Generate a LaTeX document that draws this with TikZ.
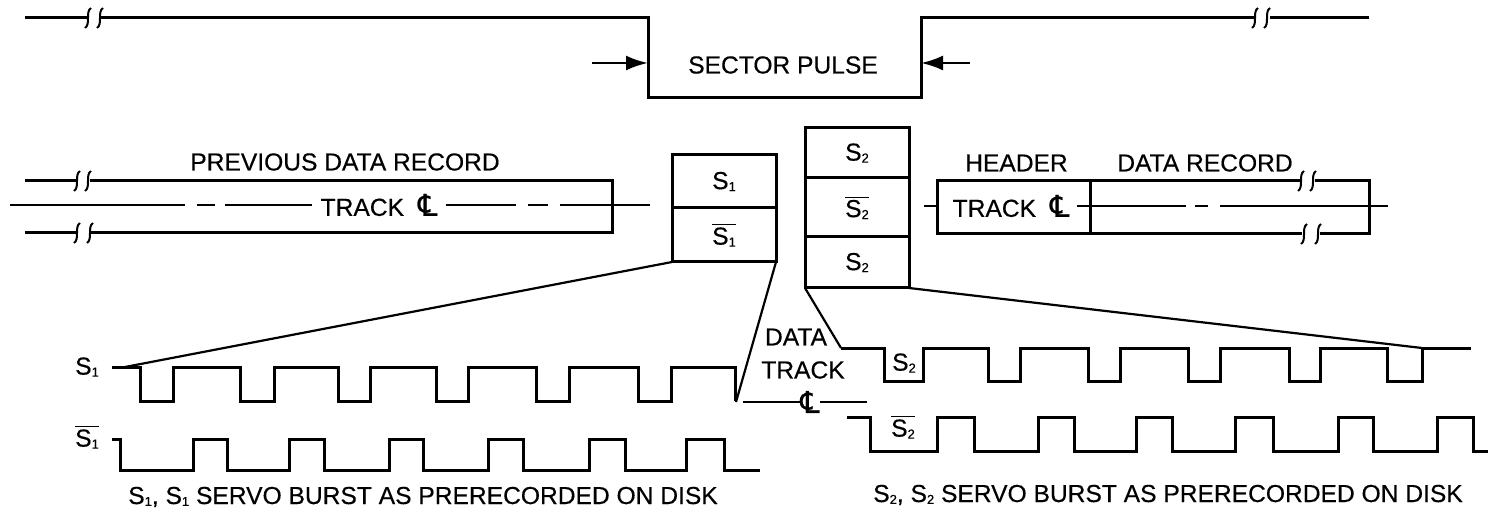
\documentclass[tikz,border=0pt]{standalone}
\usepackage{fontspec}
\setmainfont{Liberation Sans}[FakeBold=0.4]
\newfontfamily\clfont{DejaVu Sans}[FakeBold=0.6]
\usetikzlibrary{arrows.meta}
\usetikzlibrary{positioning}
\newcommand{\ssub}[2]{#1\raisebox{-0.15ex}{\fontsize{6.5}{6.5}\selectfont #2}}
\newcommand{\nbar}[1]{$\overline{\mbox{#1}}$}
\newcommand{\clmark}{{\clfont\fontsize{15}{15}\selectfont ℄}}
\newcommand{\trk}{TRACK\hspace{7pt}\clmark}

\begin{document}
\begin{tikzpicture}
[x=0.5pt,y=-0.5pt,%
  sig/.style={line width=1.5pt},%
  thin line/.style={line width=1.1pt},%
  cen/.style={line width=0.9pt},%
  lbl/.style={inner sep=0pt,font=\fontsize{12.3}{13}\selectfont},%
  trklbl/.style={lbl,inner xsep=4pt},%
  cell/.style={draw,line width=1.5pt,minimum width=52pt,inner sep=0pt,outer sep=0pt,font=\fontsize{12.3}{13}\selectfont},%
  brk/.style={line width=1pt},%
  pt/.style={line width=1.3pt,-{Latex[length=11pt,width=7.5pt]}}]
\useasboundingbox (0,0) rectangle (1494,513);

% sector pulse
\draw[sig] (25,18) -- (88,18);
\draw[sig] (100,18) -- (648,18) -- (648,98) -- (921,98) -- (921,18) -- (1255,18);
\draw[sig] (1270,18) -- (1369,18);
\node[lbl] (pulse) at (783,65) {SECTOR PULSE};
\coordinate (pl) at (592,63);
\coordinate (pr) at (970,63);
\draw[pt] (pl) -- (648,63);
\draw[pt] (pr) -- (921,63);

% previous record
\node[lbl] (prev) at (345,162) {PREVIOUS DATA RECORD};
\draw[sig] (25,181) -- (77,181);
\draw[sig] (90,181) -- (612,181) -- (612,233) -- (90,233);
\draw[sig] (25,233) -- (77,233);
\node[trklbl] (trka) at (379,205) {\trk};
\draw[cen] (10,205) -- (185,205);
\draw[cen] (197,205) -- (215,205);
\draw[cen] (225,205) -- (trka.west);
\draw[cen] (trka.east) -- (516,205);
\draw[cen] (528,205) -- (548,205);
\draw[cen] (560,205) -- (650,205);

% burst cells
\node[cell,minimum height=26.5pt] (sa) at (724,181.5) {\ssub{S}{1}};
\node[cell,minimum height=27pt,below=0pt of sa] (sb) {\nbar{\ssub{S}{1}}};
\node[cell,minimum height=25pt] (ta) at (857,153) {\ssub{S}{2}};
\node[cell,minimum height=29.5pt,below=0pt of ta] (tb) {\nbar{\ssub{S}{2}}};
\node[cell,minimum height=25.5pt,below=0pt of tb] (tc) {\ssub{S}{2}};

% next record
\node[draw,line width=1.5pt,minimum width=76.5pt,minimum height=26.5pt,inner sep=0pt,outer sep=0pt] (hdr) at (1013.5,207.5) {};
\node[lbl] (hdrl) at (1016.5,163) {HEADER};
\node[lbl] (recl) at (1205,163) {DATA RECORD};
\node[lbl] (trkb) at (1011,206) {\trk};
\draw[sig] (hdr.north east) -- (1300,181);
\draw[sig] (1315,181) -- (1369,181) -- (1369,234) -- (1320,234);
\draw[sig] (1302,234) -- (hdr.south east);
\draw[cen] (924,206) -- (hdr.west |- 924,206);
\draw[cen] (1077,206) -- (1186,206);
\draw[cen] (1195,206) -- (1208,206);
\draw[cen] (1220,206) -- (1388,206);

% break marks
\foreach \x/\y in {88/18,100/18,1255/18,1267/18,77/181,88/181,77/233,90/233,1301/181,1313/181,1304/234,1318/234}
  \draw[brk] (\x+3,\y-10) .. controls (\x-3,\y-6) and (\x+3,\y+6) .. (\x-3,\y+10);

% expansion lines
\coordinate (sl) at (125,367);
\coordinate (sr) at (736,402);
\coordinate (tl) at (841,348);
\coordinate (tr) at (1422,348);
\draw[thin line] (sb.south west) -- (sl);
\draw[thin line] (sb.south east) -- (sr);
\draw[thin line] (tc.south west) -- (tl);
\draw[thin line] (tc.south east) -- (tr);

% waves
\draw[sig] (112,367) foreach \d/\u in {140/173,240/274,338/370,436/468,536/569,638/671}
  { -- (\d,367) -- (\d,401) -- (\u,401) -- (\u,367) } -- (735,367) -- (735,401);
\draw[sig] (112,439) -- (120,439) -- (120,470) foreach \u/\d in {193/227,289/324,389/423,488/523,589/625,686/724}
  { -- (\u,470) -- (\u,439) -- (\d,439) -- (\d,470) } -- (760,470);
\draw[sig] (841,348) foreach \d/\u in {884/923,988/1020,1088/1120,1188/1220,1289/1320,1387/1422}
  { -- (\d,348) -- (\d,381) -- (\u,381) -- (\u,348) } -- (1471,348);
\draw[sig] (847,417) -- (870,417) -- (870,451) foreach \u/\d in {937/974,1038/1074,1136/1172,1235/1273,1338/1373,1437/1473}
  { -- (\u,451) -- (\u,417) -- (\d,417) -- (\d,451) } -- (1488,451);

% labels
\node[lbl] (ls) at (87,367) {\ssub{S}{1}};
\node[lbl] (lsb) at (87,437) {\nbar{\ssub{S}{1}}};
\node[lbl] (lt) at (904,363) {\ssub{S}{2}};
\node[lbl] (ltb) at (903,427) {\nbar{\ssub{S}{2}}};
\node[lbl] (dat) at (796,337) {DATA};
\node[lbl] (trkc) at (803,370) {TRACK};
\node[inner sep=0pt] (cl) at (810,402) {\clmark};
\draw[cen] (743,402) -- (cl.west);
\draw[cen] (cl.east) -- (867,402);
\node[lbl] (capa) at (423,497) {\ssub{S}{1}, \ssub{S}{1} SERVO BURST AS PRERECORDED ON DISK};
\node[lbl] (capb) at (1168,495) {\ssub{S}{2}, \ssub{S}{2} SERVO BURST AS PRERECORDED ON DISK};
\end{tikzpicture}
\end{document}
